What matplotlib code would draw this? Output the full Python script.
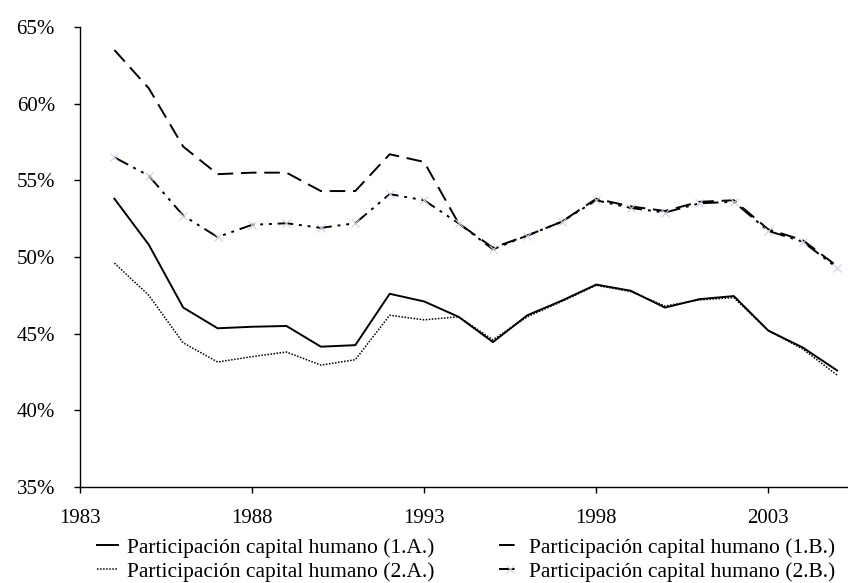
import matplotlib
matplotlib.use('Agg')
import matplotlib.pyplot as plt
import matplotlib.ticker as mtick

plt.rcParams['font.family'] = ['Liberation Serif', 'DejaVu Serif']

# Data (shares in %)
years = list(range(1984, 2006))
part_1a = [53.8, 50.8, 46.7, 45.35, 45.45, 45.5, 44.15, 44.25, 47.6, 47.1, 46.1,
           44.45, 46.2, 47.15, 48.2, 47.8, 46.7, 47.25, 47.45, 45.2, 44.1, 42.6]
part_1b = [63.5, 61.0, 57.2, 55.4, 55.5, 55.5, 54.3, 54.3, 56.7, 56.2, 52.2,
           50.6, 51.4, 52.3, 53.8, 53.3, 53.0, 53.6, 53.7, 51.8, 51.1, 49.4]
part_2a = [49.6, 47.5, 44.4, 43.15, 43.5, 43.8, 42.95, 43.3, 46.2, 45.9, 46.1,
           44.6, 46.1, 47.1, 48.15, 47.75, 46.8, 47.2, 47.35, 45.2, 44.0, 42.3]
part_2b = [56.5, 55.3, 52.7, 51.3, 52.1, 52.2, 51.9, 52.2, 54.1, 53.7, 52.2,
           50.5, 51.4, 52.3, 53.7, 53.2, 52.9, 53.5, 53.6, 51.7, 51.0, 49.3]
labels = ['Participación capital humano (1.A.)',
          'Participación capital humano (1.B.)',
          'Participación capital humano (2.A.)',
          'Participación capital humano (2.B.)']

fig = plt.figure(figsize=(8.48, 5.83), dpi=100)
ax = fig.add_axes([0.0943, 0.1647, 0.905, 0.789])

l1a, = ax.plot(years, part_1a, color='black', lw=1.4, linestyle='-')
l1b, = ax.plot(years, part_1b, color='black', lw=1.4, linestyle=(0, (8, 4)))
l2a, = ax.plot(years, part_2a, color='black', lw=1.1, linestyle=(0, (1, 1)))
l2b, = ax.plot(years, part_2b, color='black', lw=1.4, linestyle=(0, (8, 3, 1.5, 3, 1.5, 3)),
               marker='x', markersize=6, markeredgecolor='#cfcfe2', markeredgewidth=0.8)

ax.set_xlim(1983, 2005.3)
ax.set_ylim(35, 65)
ax.set_xticks([1983, 1988, 1993, 1998, 2003])
ax.set_yticks(range(35, 66, 5))
ax.yaxis.set_major_formatter(mtick.FuncFormatter(lambda v, p: f'{v:.0f}%'))
ax.tick_params(axis='both', labelsize=15, direction='out', length=4, width=1)
ax.tick_params(axis='x', pad=12)
ax.tick_params(axis='y', pad=14)
for s in ['top', 'right']:
    ax.spines[s].set_visible(False)
for s in ['left', 'bottom']:
    ax.spines[s].set_linewidth(1)

fig.legend([l1a, l2a, l1b, l2b], [labels[0], labels[2], labels[1], labels[3]],
           ncol=2, loc='upper left', bbox_to_anchor=(0.114, 0.078),
           frameon=False, fontsize=15.5, handlelength=1.0, handletextpad=0.4,
           columnspacing=3.0, labelspacing=0.2, borderpad=0, borderaxespad=0)

fig.savefig('out.png', dpi=100)
